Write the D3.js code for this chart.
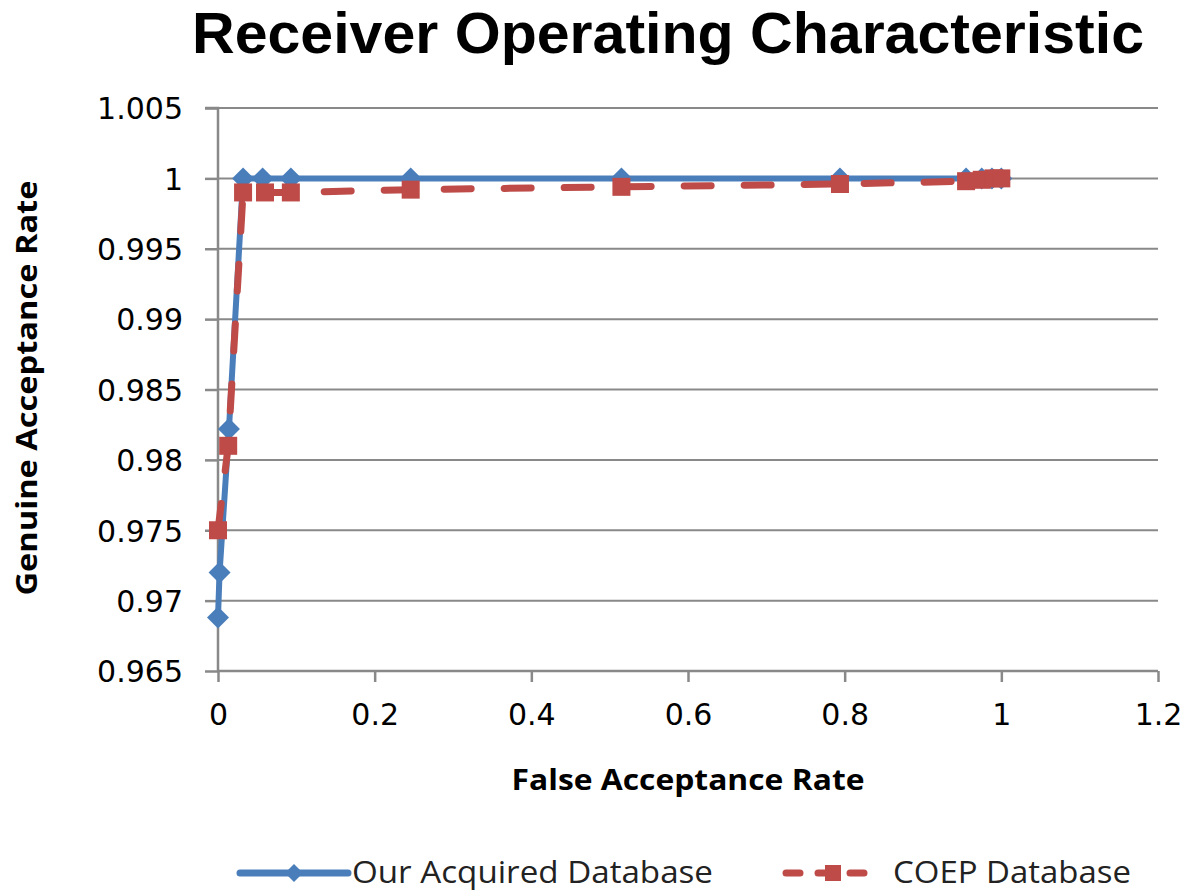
<!DOCTYPE html>
<html>
<head>
<meta charset="utf-8">
<script src="https://cdn.jsdelivr.net/npm/d3@7"></script>
<style>
  body { margin: 0; background: #fff; }
  svg { display: block; }
</style>
</head>
<body>
<svg id="chart" width="1181" height="891"></svg>
<script>
// DATA
const seriesNames = ["Our Acquired Database", "COEP Database"];

const acquiredFAR = [0, 0.002, 0.014, 0.032, 0.057, 0.093, 0.246, 0.515, 0.794, 0.955, 0.975, 0.988, 1];
const acquiredGAR = [0.9688, 0.972, 0.9822, 1, 1, 1, 1, 1, 1, 1, 1, 1, 1];

const coepFAR = [0, 0.013, 0.032, 0.06, 0.093, 0.246, 0.515, 0.794, 0.955, 0.975, 0.99, 1];
const coepGAR = [0.975, 0.981, 0.999, 0.999, 0.999, 0.9992, 0.9994, 0.9996, 0.9998, 0.9999, 1, 1];

const xTicks = [0, 0.2, 0.4, 0.6, 0.8, 1, 1.2];
const yTicks = [0.965, 0.97, 0.975, 0.98, 0.985, 0.99, 0.995, 1, 1.005];

// CANVAS SETUP
const svg = d3.select("#chart");
const margin = { top: 108, right: 23, bottom: 220, left: 218 };
const width = 1181 - margin.left - margin.right,
  height = 891 - margin.top - margin.bottom;

const blue = "#4a7ebb",
  red = "#be4b48",
  grid = "#898989";

const x = d3.scaleLinear().domain([0, 1.2]).range([0, width]);
const y = d3.scaleLinear().domain([0.965, 1.005]).range([height, 0]);

const g = svg.append("g").attr("transform", `translate(${margin.left},${margin.top})`);

// gridlines
g.append("g")
  .selectAll("line")
  .data(yTicks.slice(1))
  .join("line")
  .attr("x1", 0)
  .attr("x2", width)
  .attr("y1", (d) => y(d))
  .attr("y2", (d) => y(d))
  .attr("stroke", grid)
  .attr("stroke-width", 2);

// axes
const yAxis = g
  .append("g")
  .call(d3.axisLeft(y).tickValues(yTicks).tickSize(13).tickPadding(22).tickFormat((d) => +d.toFixed(3)));
const xAxis = g
  .append("g")
  .attr("transform", `translate(0,${height})`)
  .call(d3.axisBottom(x).tickValues(xTicks).tickSize(11).tickPadding(22).tickFormat((d) => +d.toFixed(1)));

[xAxis, yAxis].forEach((a) => {
  a.select(".domain").attr("stroke", grid).attr("stroke-width", 2.5);
  a.selectAll(".tick line").attr("stroke", grid).attr("stroke-width", 2.5);
  a.selectAll(".tick text")
    .attr("fill", "#000")
    .style("font-family", "'DejaVu Sans', sans-serif")
    .style("font-size", "30px");
});
yAxis.select(".domain").attr("d", `M0,${height}V0H-13`);
yAxis.selectAll(".tick text").attr("dy", "0.36em");
xAxis.select(".domain").attr("d", `M0,0H${width}`);

// SERIES
const line = d3
  .line()
  .x((d) => x(d[0]))
  .y((d) => y(d[1]));

const acquired = d3.zip(acquiredFAR, acquiredGAR);
const coep = d3.zip(coepFAR, coepGAR);

const diamond = (s) => `M0,${-s}L${s},0L0,${s}L${-s},0Z`;

g.append("path")
  .datum(acquired)
  .attr("d", line)
  .attr("fill", "none")
  .attr("stroke", blue)
  .attr("stroke-width", 6)
  .attr("stroke-linejoin", "round");

g.append("g")
  .selectAll("path")
  .data(acquired)
  .join("path")
  .attr("transform", (d) => `translate(${x(d[0])},${y(d[1])})`)
  .attr("d", diamond(11))
  .attr("fill", blue);

g.append("path")
  .datum(coep)
  .attr("d", line)
  .attr("fill", "none")
  .attr("stroke", red)
  .attr("stroke-width", 7)
  .attr("stroke-linecap", "round")
  .attr("stroke-linejoin", "round")
  .attr("stroke-dasharray", "27,33");

g.append("g")
  .selectAll("rect")
  .data(coep)
  .join("rect")
  .attr("x", (d) => x(d[0]) - 9)
  .attr("y", (d) => y(d[1]) - 9)
  .attr("width", 18)
  .attr("height", 18)
  .attr("fill", red);

// TITLES
svg.append("text")
  .attr("x", 668)
  .attr("y", 53)
  .attr("text-anchor", "middle")
  .attr("textLength", 952)
  .attr("lengthAdjust", "spacingAndGlyphs")
  .style("font-family", "'Liberation Sans', sans-serif")
  .style("font-weight", "bold")
  .style("font-size", "58px")
  .text("Receiver Operating Characteristic");

svg.append("text")
  .attr("x", 688)
  .attr("y", 790)
  .attr("text-anchor", "middle")
  .attr("textLength", 353)
  .attr("lengthAdjust", "spacingAndGlyphs")
  .style("font-family", "'Open Sans', sans-serif")
  .style("font-weight", "bold")
  .style("font-size", "29px")
  .text("False Acceptance Rate");

svg.append("text")
  .attr("transform", "translate(37,388) rotate(-90)")
  .attr("text-anchor", "middle")
  .attr("textLength", 415)
  .attr("lengthAdjust", "spacingAndGlyphs")
  .style("font-family", "'Open Sans', sans-serif")
  .style("font-weight", "bold")
  .style("font-size", "29px")
  .text("Genuine Acceptance Rate");

// LEGEND
const legend = svg.append("g").attr("transform", "translate(0,873)");
const legendItems = [
  { name: seriesNames[0], x0: 240, x1: 348, tx: 352, tw: 361, color: blue, dash: null },
  { name: seriesNames[1], x0: 786, x1: 880, tx: 893, tw: 238, color: red, dash: "14,18" },
];

legendItems.forEach((d, i) => {
  const lg = legend.append("g");
  lg.append("line")
    .attr("x1", d.x0)
    .attr("x2", d.x1)
    .attr("stroke", d.color)
    .attr("stroke-width", 7)
    .attr("stroke-linecap", "round")
    .attr("stroke-dasharray", d.dash);
  const cx = (d.x0 + d.x1) / 2;
  if (i === 0) {
    lg.append("path").attr("transform", `translate(${cx},0)`).attr("d", diamond(9)).attr("fill", d.color);
  } else {
    lg.append("rect").attr("x", cx - 8).attr("y", -8).attr("width", 16).attr("height", 16).attr("fill", d.color);
  }
  lg.append("text")
    .attr("x", d.tx)
    .attr("y", 10)
    .attr("textLength", d.tw)
    .attr("lengthAdjust", "spacingAndGlyphs")
    .style("font-family", "'Liberation Sans Narrow', 'Open Sans', sans-serif")
    .style("font-size", "31px")
    .attr("fill", "#222")
    .text(d.name);
});
</script>
</body>
</html>
